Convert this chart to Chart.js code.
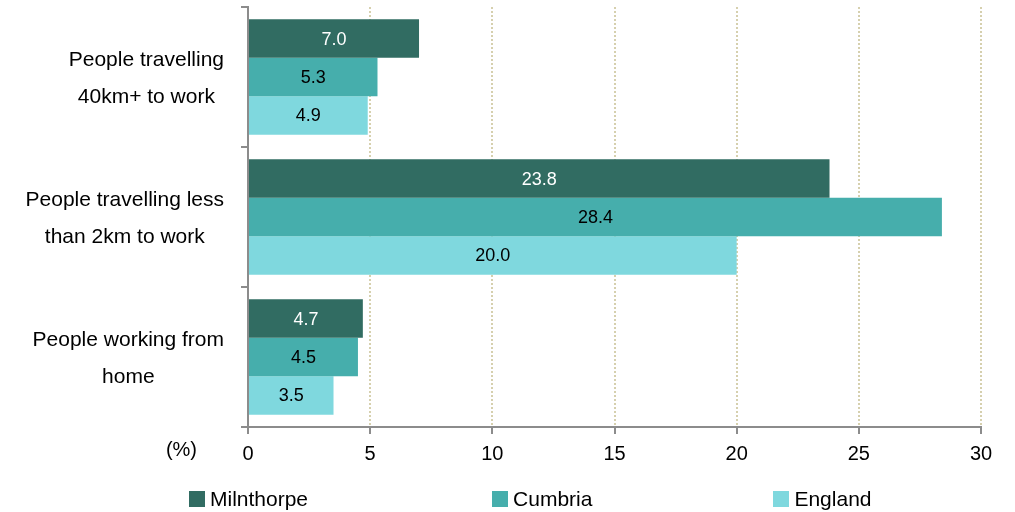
<!DOCTYPE html>
<html>
<head>
<meta charset="utf-8">
<script src="https://cdn.jsdelivr.net/npm/chart.js@4.4.1/dist/chart.umd.min.js"></script>
<style>
  html,body{margin:0;padding:0;background:#fff}
  #wrap{position:relative;width:1015px;height:512px}
  #legend{position:absolute;left:189px;top:489px;display:flex;font:21px "Liberation Sans",Arial,sans-serif;color:#000;line-height:20px}
  #legend .item{display:flex;align-items:center}
  #legend .item:nth-child(1){margin-right:184px}
  #legend .item:nth-child(2){margin-right:181px}
  #legend .box{width:16px;height:16px;margin-right:5px}
</style>
</head>
<body>
<div id="wrap">
  <canvas id="chart" width="1015" height="512"></canvas>
  <div id="legend"></div>
</div>
<script>
// categories (top to bottom) and series values in %
const categories = [
  ['People travelling', '40km+ to work'],
  ['People travelling less', 'than 2km to work'],
  ['People working from', 'home']
];
const seriesNames = ['Milnthorpe', 'Cumbria', 'England'];
const milnthorpe = [7.0, 23.8, 4.7];
const cumbria = [5.3, 28.4, 4.5];
const england = [4.9, 20.0, 3.5];
const xTicks = [0, 5, 10, 15, 20, 25, 30];

const colors = ['#316c62', '#46aeac', '#7fd8de'];
const labelColors = ['#ffffff', '#000000', '#000000'];
const FONT = '"Liberation Sans", Arial, sans-serif';

// value labels centred in each bar
const barLabels = {
  id: 'barLabels',
  afterDatasetsDraw(chart){
    const ctx = chart.ctx;
    ctx.save();
    ctx.font = '18px ' + FONT;
    ctx.textAlign = 'center'; ctx.textBaseline = 'middle';
    chart.data.datasets.forEach((ds, i) => {
      chart.getDatasetMeta(i).data.forEach((bar, j) => {
        ctx.fillStyle = labelColors[i];
        ctx.fillText(ds.data[j].toFixed(1), (bar.x + bar.base) / 2, bar.y + 1);
      });
    });
    ctx.restore();
  }
};

// category labels: block right-aligned, lines centred inside the block
const catLabels = {
  id: 'catLabels',
  afterDraw(chart){
    const ctx = chart.ctx, y = chart.scales.y, x = chart.scales.x;
    ctx.save();
    ctx.font = '21px ' + FONT;
    ctx.fillStyle = '#000';
    ctx.textAlign = 'center'; ctx.textBaseline = 'middle';
    const lineH = 37;
    categories.forEach((lines, i) => {
      const widest = Math.max(...lines.map(l => ctx.measureText(l).width));
      const cx = y.right - 24 - widest / 2;
      const cy = y.getPixelForTick(i) + 2;
      lines.forEach((l, k) => ctx.fillText(l, cx, cy + (k - (lines.length - 1) / 2) * lineH));
    });
    ctx.font = '20px ' + FONT;
    ctx.textAlign = 'right';
    ctx.fillText('(%)', x.left - 51, x.top + 23);
    ctx.restore();
  }
};

const chart = new Chart(document.getElementById('chart'), {
  type: 'bar',
  data: {
    labels: categories,
    datasets: [
      {label: seriesNames[0], data: milnthorpe, backgroundColor: colors[0]},
      {label: seriesNames[1], data: cumbria, backgroundColor: colors[1]},
      {label: seriesNames[2], data: england, backgroundColor: colors[2]}
    ]
  },
  options: {
    indexAxis: 'y',
    responsive: false,
    animation: false,
    categoryPercentage: 0.824,
    barPercentage: 1.0,
    layout: {padding: {left: 0, right: 34, top: 7, bottom: 38}},
    plugins: {legend: {display: false}, tooltip: {enabled: false}},
    scales: {
      x: {
        min: 0, max: 30,
        afterBuildTicks(scale){ scale.ticks = xTicks.map(v => ({value: v})); },
        ticks: {color: '#000', font: {family: FONT, size: 20}, padding: 8, maxRotation: 0},
        grid: {color: '#d6d0ae', lineWidth: 2, tickColor: '#8c8c8c', tickLength: 7, tickWidth: 2},
        border: {display: true, color: '#8c8c8c', width: 2, dash: [2, 2]}
      },
      y: {
        afterFit(scale){ scale.width = 248; },
        ticks: {display: false},
        grid: {offset: true, drawOnChartArea: false, color: '#8c8c8c', tickLength: 7, lineWidth: 2},
        border: {display: true, color: '#8c8c8c', width: 2}
      }
    }
  },
  plugins: [barLabels, catLabels]
});

// legend built from the chart's datasets
const legend = document.getElementById('legend');
chart.data.datasets.forEach(ds => {
  const item = document.createElement('div'); item.className = 'item';
  const box = document.createElement('span'); box.className = 'box'; box.style.background = ds.backgroundColor;
  const txt = document.createElement('span'); txt.textContent = ds.label;
  item.appendChild(box); item.appendChild(txt); legend.appendChild(item);
});
</script>
</body>
</html>
